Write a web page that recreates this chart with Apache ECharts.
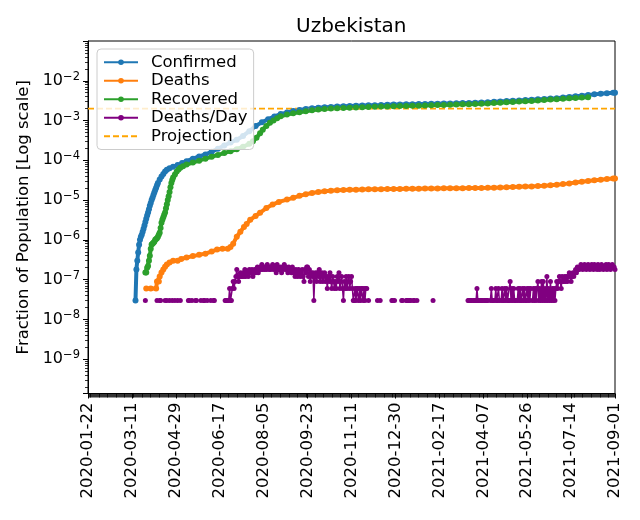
<!DOCTYPE html>
<html>
<head>
<meta charset="utf-8">
<title>Uzbekistan</title>
<style>
    html, body {margin: 0; padding: 0; background: #ffffff;}
    #main {width: 640px; height: 520px;}
</style>
</head>
<body>
<div id="main"></div>
<script src="https://cdn.jsdelivr.net/npm/echarts@6/dist/echarts.min.js"></script>
<script>
// x values are days counted from 2020-01-22, one tick label every 49 days
var tickLabels = ['2020-01-22', '2020-03-11', '2020-04-29', '2020-06-17', '2020-08-05', '2020-09-23',
    '2020-11-11', '2020-12-30', '2021-02-17', '2021-04-07', '2021-05-26', '2021-07-14', '2021-09-01'];

// Confirmed (fraction of population)
var confDay = [53, 54, 55, 56, 57, 58, 59, 60, 61, 62, 63, 64, 65, 66, 67, 68, 69, 70, 71, 72, 73, 74, 75, 76, 77, 78,
    80, 82, 84, 86, 88, 91, 95, 100, 105, 110, 117, 124,
    131, 138, 145, 152, 159, 166, 173, 180, 187, 194, 201, 208, 215, 222, 229, 236, 243,
    250, 257, 264, 271, 278, 285, 292, 299, 306, 313, 320, 327, 334, 341, 348, 355, 362, 369, 376, 383,
    390, 397, 404, 411, 418, 425, 432, 439, 446, 453, 460, 467, 474, 481, 488, 495, 502, 509, 516, 523,
    530, 537, 544, 551, 558, 565, 572, 579, 586, 588];
var confVal = [3.0e-8, 1.8e-7, 3.0e-7, 4.8e-7, 7.5e-7, 1.0e-6, 1.2e-6, 1.35e-6, 1.6e-6, 1.9e-6, 2.3e-6, 2.8e-6, 3.4e-6,
    4.1e-6, 4.9e-6, 5.9e-6, 7.2e-6, 8.5e-6, 1.0e-5, 1.15e-5, 1.35e-5, 1.55e-5, 1.8e-5, 2.05e-5, 2.35e-5, 2.7e-5,
    3.3e-5, 3.9e-5, 4.5e-5, 5.2e-5, 5.8e-5, 6.3e-5, 6.9e-5, 7.6e-5, 8.5e-5, 9.5e-5, 1.1e-4, 1.25e-4,
    1.4e-4, 1.65e-4, 1.95e-4, 2.35e-4, 2.8e-4, 3.3e-4, 4.1e-4, 5.4e-4, 7.3e-4, 9.0e-4, 1.08e-3, 1.27e-3, 1.45e-3,
    1.6e-3, 1.73e-3, 1.85e-3, 1.95e-3,
    2.03e-3, 2.09e-3, 2.15e-3, 2.2e-3, 2.25e-3, 2.28e-3, 2.32e-3, 2.35e-3, 2.38e-3, 2.41e-3, 2.44e-3, 2.46e-3,
    2.49e-3, 2.52e-3, 2.54e-3, 2.56e-3, 2.58e-3, 2.6e-3, 2.62e-3, 2.64e-3,
    2.66e-3, 2.68e-3, 2.7e-3, 2.72e-3, 2.75e-3, 2.78e-3, 2.82e-3, 2.86e-3, 2.9e-3, 2.96e-3, 3.02e-3, 3.08e-3,
    3.14e-3, 3.2e-3, 3.27e-3, 3.34e-3, 3.41e-3, 3.48e-3, 3.56e-3, 3.66e-3,
    3.78e-3, 3.92e-3, 4.06e-3, 4.2e-3, 4.38e-3, 4.55e-3, 4.7e-3, 4.85e-3, 4.97e-3, 5.0e-3];

// Deaths
var deathDay = [65, 70, 76, 77, 79, 80, 82, 84, 86, 88, 91, 95, 100, 104, 110, 117, 124, 131, 138, 144, 150, 156,
    159, 162, 166, 170, 174, 177, 181, 187, 192, 199, 206, 213, 222, 229, 236, 243,
    250, 257, 264, 271, 278, 285, 292, 299, 306, 313, 320, 327, 334, 341, 348, 355, 362, 369, 376, 383,
    390, 397, 404, 411, 418, 425, 432, 439, 446, 453, 460, 467, 474, 481, 488, 495, 502, 509, 516, 523,
    530, 537, 544, 551, 558, 565, 572, 579, 586, 588];
var deathVal = [6e-8, 6e-8, 6e-8, 9e-8, 9e-8, 1.2e-7, 1.5e-7, 1.8e-7, 2.1e-7, 2.4e-7, 2.7e-7, 3.0e-7, 3.0e-7, 3.3e-7,
    3.6e-7, 3.9e-7, 4.2e-7, 4.5e-7, 5.1e-7, 5.7e-7, 6.0e-7, 6.0e-7,
    6.6e-7, 8.0e-7, 1.2e-6, 1.6e-6, 2.1e-6, 2.5e-6, 3.2e-6, 4.0e-6, 4.8e-6, 6.3e-6, 7.7e-6, 9.0e-6, 1.03e-5,
    1.14e-5, 1.28e-5, 1.4e-5,
    1.5e-5, 1.6e-5, 1.67e-5, 1.72e-5, 1.76e-5, 1.79e-5, 1.81e-5, 1.83e-5, 1.85e-5, 1.86e-5, 1.87e-5, 1.88e-5,
    1.89e-5, 1.9e-5, 1.91e-5, 1.92e-5, 1.93e-5, 1.94e-5, 1.95e-5, 1.95e-5,
    1.96e-5, 1.97e-5, 1.98e-5, 1.98e-5, 1.99e-5, 2.0e-5, 2.01e-5, 2.02e-5, 2.03e-5, 2.05e-5, 2.07e-5, 2.09e-5,
    2.12e-5, 2.15e-5, 2.18e-5, 2.21e-5, 2.25e-5, 2.3e-5, 2.36e-5, 2.43e-5,
    2.52e-5, 2.63e-5, 2.76e-5, 2.9e-5, 3.03e-5, 3.14e-5, 3.25e-5, 3.38e-5, 3.48e-5, 3.5e-5];

// Recovered
var recDay = [64, 65, 66, 67, 68, 69, 70, 71, 72, 73, 74, 75, 76, 77, 78, 79, 80, 81, 82, 83, 84, 85, 86, 87, 88, 89,
    90, 91, 92, 93, 94, 95, 97, 99, 101, 103, 106, 110, 117, 124, 131, 138, 145, 152, 159, 166, 173, 180,
    184, 188, 192, 195, 199, 203, 207, 211, 215, 222, 229, 236, 243, 250,
    257, 264, 271, 278, 285, 292, 299, 306, 313, 320, 327, 334, 341, 348, 355, 362, 369, 376, 383, 390,
    397, 404, 411, 418, 425, 432, 439, 446, 453, 460, 467, 474, 481, 488, 495, 502, 509, 516, 523, 530,
    537, 544, 551, 558];
var recVal = [1.5e-7, 1.5e-7, 2.0e-7, 2.2e-7, 3.0e-7, 4.0e-7, 6.0e-7, 7.6e-7, 8.0e-7, 8.5e-7, 9.0e-7, 1.0e-6,
    1.05e-6, 1.1e-6, 1.2e-6, 1.35e-6, 1.5e-6, 2.0e-6, 2.7e-6, 3.2e-6, 3.7e-6, 4.3e-6, 4.9e-6, 6.2e-6, 7.8e-6,
    1.0e-5, 1.25e-5, 1.6e-5, 2.1e-5, 2.7e-5, 3.2e-5, 3.7e-5, 4.4e-5, 5.2e-5, 5.9e-5, 6.5e-5, 7.1e-5, 7.8e-5,
    8.8e-5, 9.8e-5, 1.1e-4, 1.23e-4, 1.37e-4, 1.52e-4, 1.7e-4, 1.9e-4, 2.2e-4, 2.6e-4,
    3.0e-4, 3.7e-4, 4.8e-4, 5.9e-4, 7.3e-4, 8.8e-4, 1.0e-3, 1.15e-3, 1.28e-3, 1.42e-3, 1.52e-3, 1.62e-3,
    1.72e-3, 1.82e-3,
    1.9e-3, 1.96e-3, 2.0e-3, 2.03e-3, 2.06e-3, 2.09e-3, 2.12e-3, 2.15e-3, 2.18e-3, 2.21e-3, 2.24e-3, 2.26e-3,
    2.29e-3, 2.31e-3, 2.33e-3, 2.35e-3, 2.37e-3, 2.4e-3, 2.42e-3, 2.45e-3,
    2.47e-3, 2.5e-3, 2.52e-3, 2.55e-3, 2.58e-3, 2.61e-3, 2.65e-3, 2.7e-3, 2.76e-3, 2.82e-3, 2.88e-3, 2.94e-3,
    3.0e-3, 3.06e-3, 3.12e-3, 3.2e-3, 3.28e-3, 3.36e-3, 3.45e-3, 3.54e-3,
    3.62e-3, 3.7e-3, 3.78e-3, 3.86e-3];

// Deaths/Day as daily counts from day 64 (2020-03-26); 0 days are not drawn on the log axis
var perDayStart = 64;
var perDayCount = [
    1,0,0,0,0,0,0,0,0,0, 0,0,0,1,0,0,1,1,0,0, 0,0,1,0,1,0,0,1,0,0, 1,0,0,1,0,0,1,0,0,1,
    0,0,0,0,0,0,0,0,1,1, 0,0,1,0,0,0,1,1,0,0, 0,0,1,0,0,1,1,0,0,1, 0,0,0,1,0,0,1,1,0,0,
    0,0,0,0,0,0,0,0,0,1, 1,1,0,1,2,1,1,2,3,2, 3,4,6,4,3,4,5,4,4,5, 4,6,4,5,5,4,6,5,5,6,
    4,5,6,5,6,7,5,6,7,6, 8,6,7,6,7,6,8,7,6,7, 6,7,8,6,7,7,5,8,7,6, 6,7,5,6,7,8,6,7,6,5,
    7,6,6,5,7,6,5,4,6,5, 4,6,5,4,5,6,4,3,6,5, 7,7,4,6,3,5,4,5,1,4, 5,3,5,4,6,3,4,5,3,4,
    5,3,4,2,4,3,5,3,2,4, 3,2,3,2,4,3,5,2,3,4, 2,1,3,2,4,2,3,4,2,3, 4,2,1,1,2,1,2,2,1,2,
    1,2,2,1,2,1,2,2,0,1, 0,0,0,0,0,0,0,0,0,1, 0,0,1,0,0,0,0,0,0,0, 0,0,0,0,0,1,1,0,1,0,
    0,0,0,0,0,0,1,1,0,0, 0,1,1,1,0,1,1,0,0,1, 1,0,0,1,0,0,0,0,0,0, 0,0,0,0,0,0,0,0,0,0,
    0,1,0,0,0,0,0,0,0,0, 0,0,0,0,0,0,0,0,0,0, 0,0,0,0,0,0,0,0,0,0, 0,0,0,0,0,0,0,0,0,0,
    1,1,1,1,1,0,1,1,1,1, 2,1,1,0,1,1,1,0,1,1, 1,1,1,0,0,1,2,1,1,0, 1,2,1,1,2,1,0,1,2,1,
    1,2,1,2,1,1,1,3,1,2, 1,2,1,1,0,1,2,1,2,1, 1,2,1,2,1,1,2,1,2,1, 2,0,1,2,1,2,1,2,3,1,
    2,1,3,1,3,1,2,1,4,1, 2,1,3,1,2,1,2,1,2,3, 2,3,4,3,2,4,3,3,4,3, 4,3,4,5,4,3,4,5,4,5,
    6,5,7,6,6,7,8,7,6,7, 8,7,6,7,8,7,6,7,8,7, 6,8,7,7,6,8,7,6,7,8, 7,6,7,7,8,6,7,8,7,6,
    7,8,7,7,6
];
var oneDeath = 2.98e-8;   // lowest Deaths/Day level on the chart

// Projection level
var projectionVal = 2.0e-3;

function pairs(days, vals) {
    return days.map(function (d, i) { return [d, vals[i]]; });
}
var perDayData = perDayCount.map(function (c, i) {
    return [perDayStart + i, c > 0 ? c * oneDeath : null];
});

var font = 'DejaVu Sans';
var myChart = echarts.init(document.getElementById('main'));

var option = {
    animation: false,
    backgroundColor: '#ffffff',
    title: {
        text: 'Uzbekistan',
        left: 296,
        top: 17,
        padding: 0,
        textStyle: {fontFamily: font, fontSize: 20, fontWeight: 'normal', color: '#000'}
    },
    legend: {
        orient: 'vertical',
        left: 97,
        top: 49,
        padding: [4, 6, 4, 6],
        itemWidth: 34,
        itemHeight: 7,
        itemGap: 0,
        backgroundColor: 'rgba(255,255,255,0.8)',
        borderColor: '#cccccc',
        borderWidth: 1,
        borderRadius: 4,
        lineStyle: {width: 2},
        textStyle: {fontFamily: font, fontSize: 16.5, color: '#000', lineHeight: 18.5, padding: [0, 0, 0, 8]},
        data: ['Confirmed', 'Deaths', 'Recovered', 'Deaths/Day',
            {name: 'Projection', itemStyle: {color: 'rgba(0,0,0,0)', borderWidth: 0}}]
    },
    grid: {
        left: 88,
        right: 25,
        top: 41,
        bottom: 126.5,
        show: true,
        borderColor: '#000',
        borderWidth: 1
    },
    xAxis: {
        type: 'value',
        min: 0,
        max: 588,
        interval: 49,
        axisLine: {show: true, onZero: false, lineStyle: {color: '#000', width: 1}},
        axisTick: {show: true, length: 5, lineStyle: {color: '#000', width: 1}},
        minorTick: {show: true, splitNumber: 49, length: 4, lineStyle: {color: '#000', width: 0.8}},
        splitLine: {show: false},
        axisLabel: {
            rotate: 90,
            margin: 9,
            fontFamily: font,
            fontSize: 16.5,
            color: '#000',
            formatter: function (v) { return tickLabels[Math.round(v / 49)]; }
        }
    },
    yAxis: {
        type: 'log',
        logBase: 10,
        min: 1.37e-10,
        max: 0.1,
        splitNumber: 10,
        name: 'Fraction of Population [Log scale]',
        nameLocation: 'middle',
        nameGap: 54,
        nameTextStyle: {fontFamily: font, fontSize: 16.5, color: '#000'},
        axisLine: {show: true, lineStyle: {color: '#000', width: 1}},
        axisTick: {show: true, length: 5, lineStyle: {color: '#000', width: 1}},
        minorTick: {show: true, splitNumber: 9, length: 3, lineStyle: {color: '#000', width: 0.8}},
        splitLine: {show: false},
        axisLabel: {
            margin: 8,
            color: '#000',
            formatter: function (v) {
                var e = Math.round(Math.log(v) / Math.LN10);
                if (e > -2 || e < -9) {
                    return '';
                }
                return '{b|10}{s|\u2212' + (-e) + '}';
            },
            rich: {
                b: {fontFamily: font, fontSize: 16, lineHeight: 20, color: '#000'},
                s: {fontFamily: font, fontSize: 11.5, lineHeight: 10, verticalAlign: 'top', color: '#000'}
            }
        }
    },
    series: [
        {
            name: 'Confirmed', type: 'line', data: pairs(confDay, confVal),
            color: '#1f77b4', symbol: 'circle', symbolSize: 6, showAllSymbol: true,
            lineStyle: {width: 4}
        },
        {
            name: 'Deaths', type: 'line', data: pairs(deathDay, deathVal),
            color: '#ff7f0e', symbol: 'circle', symbolSize: 6, showAllSymbol: true,
            lineStyle: {width: 4}
        },
        {
            name: 'Recovered', type: 'line', data: pairs(recDay, recVal),
            color: '#2ca02c', symbol: 'circle', symbolSize: 6, showAllSymbol: true,
            lineStyle: {width: 4}
        },
        {
            name: 'Deaths/Day', type: 'line', data: perDayData,
            color: '#800080', symbol: 'circle', symbolSize: 5, showAllSymbol: true,
            connectNulls: false,
            lineStyle: {width: 1.5}
        },
        {
            name: 'Projection', type: 'line', data: [[0, projectionVal], [588, projectionVal]],
            color: '#ffa500', symbol: 'none',
            lineStyle: {width: 1.8, type: [6, 3]}
        }
    ]
};
myChart.setOption(option);
</script>
</body>
</html>
